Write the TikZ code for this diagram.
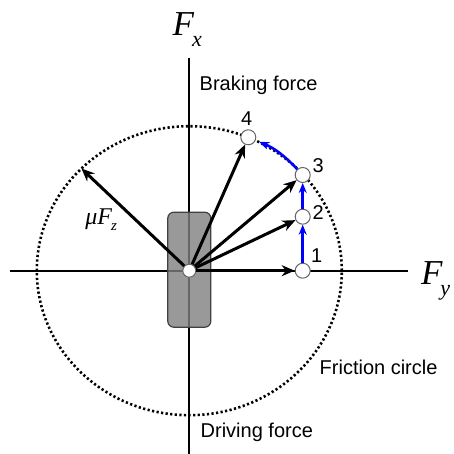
\documentclass[tikz,border=0pt]{standalone}
\usepackage{fontspec}
\setmainfont{Liberation Sans}
\newfontfamily\timesit{Liberation Serif}
\usetikzlibrary{arrows.meta,positioning}

\begin{document}
\begin{tikzpicture}[x=0.5pt, y=0.5pt,
    axis/.style={line width=1pt},
    force/.style={line width=1.5pt, -{Stealth[length=6.5pt,width=5.5pt]}},
    slide/.style={blue, line width=1.3pt, -{Stealth[length=5pt,width=4pt]}},
    ptnode/.style={circle, draw=black!60, fill=white, line width=0.5pt, inner sep=0pt, minimum size=7.5pt},
    numlbl/.style={font=\fontsize{10}{12}\selectfont, inner sep=0pt},
    txt/.style={font=\fontsize{10}{12}\selectfont, anchor=west, inner sep=0pt},
    bigsym/.style={anchor=base west, inner sep=0pt, font=\fontsize{17.5}{20}\selectfont\timesit\itshape},
    smallsym/.style={anchor=base west, inner sep=0pt, font=\fontsize{12}{14}\selectfont\timesit\itshape}]
  \useasboundingbox (-189.3,-183.3) rectangle (264.7,270.7);

  % friction circle and axes
  \draw[line width=1.3pt, dash pattern=on 1.1pt off 1.2pt] (0,0) ellipse [x radius=152.5, y radius=144.5];
  \draw[axis] (-179.3,0) -- (218.7,0);
  \draw[axis] (0,212.7) -- (0,-186);

  % tyre seen from above, axes show through it
  \node[draw=black!75, fill=black!50, fill opacity=0.8, rounded corners=3pt, line width=0.6pt,
        minimum width=21.5pt, minimum height=57.5pt] (tyre) at (0,1) {};

  \node[ptnode, minimum size=6.5pt] (c) at (0,0) {};
  \node[ptnode] (n1) at (113.4,0) {};
  \node[ptnode] (n2) at (113.4,54) {};
  \node[ptnode] (n3) at (113.4,95.7) {};
  \node[ptnode] (n4) at (59,133.4) {};
  \coordinate (mu) at (135:152.5 and 144.5);

  \foreach \n in {n1,n2,n3,n4}
    \draw[force] (c) -- (\n);
  \draw[force] (c) -- (mu);

  \draw[slide] (n1) -- (n2);
  \draw[slide] (n2) -- (n3);
  \draw[slide, shorten >=2pt] (n3) to[bend right=12] (n4);

  \node[numlbl] (l1) at ([shift={(14,15)}]n1) {1};
  \node[numlbl] (l2) at ([shift={(15.6,4)}]n2) {2};
  \node[numlbl] (l3) at ([shift={(15.6,9)}]n3) {3};
  \node[numlbl] (l4) at ([shift={(-1.6,19)}]n4) {4};

  \node[txt] (brake) at (10,185) {Braking force};
  \node[txt] (drive) at (11,-161.3) {Driving force};
  \node[txt] (fric) at (130,-96.3) {Friction circle};

  \node[bigsym] (fx) at (-17,234.7)
    {F\kern-1pt\raisebox{-5.5pt}{\fontsize{11}{11}\selectfont x}};
  \node[bigsym] (fy) at (231.4,-14.3)
    {F\kern-1pt\raisebox{-5.5pt}{\fontsize{11}{11}\selectfont y}};
  \node[smallsym] (muf) at (-104.3,45.7)
    {μF\kern-0.5pt\raisebox{-3pt}{\fontsize{7.5}{8}\selectfont z}};
\end{tikzpicture}
\end{document}
